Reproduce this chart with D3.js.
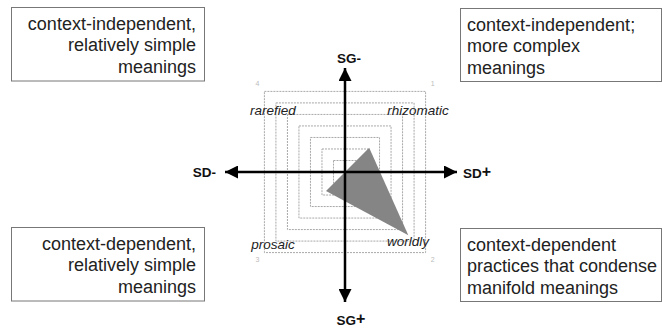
<!DOCTYPE html>
<html><head><meta charset="utf-8">
<script src="https://cdn.jsdelivr.net/npm/d3@7"></script>
<style>body{margin:0;background:#fff}svg{display:block}text{font-family:"Liberation Sans",Arial,sans-serif}</style>
</head><body>
<script>
const axes = ["rhizomatic","worldly","prosaic","rarefied"];
const axisNumbers = ["1","2","3","4"];
const values = [2.1, 5.5, 1.65, 0];
const gridLevels = [1,2,3,4,5,6,7];
const crossLabels = [["SG","-"],["SD","+"],["SG","+"],["SD","-"]];
const boxTexts = [
  ["context-independent,","relatively simple","meanings"],
  ["context-independent;","more complex","meanings"],
  ["context-dependent","practices that condense","manifold meanings"],
  ["context-dependent,","relatively simple","meanings"]
];

const W=662,H=329, cx=345, cy=172;
const svg=d3.select("body").append("svg").attr("width",W).attr("height",H);
const r=d3.scaleLinear().domain([0,7]).range([0,80.6]);
const dirs=[[1,-1],[1,1],[-1,1],[-1,-1]];

svg.append("g").selectAll("rect").data(gridLevels).join("rect")
  .attr("x",d=>cx-r(d)).attr("y",d=>cy-r(d))
  .attr("width",d=>2*r(d)).attr("height",d=>2*r(d))
  .attr("fill","none").attr("stroke","#a8a8a8").attr("stroke-width",1).attr("stroke-dasharray","2,1");

svg.append("g").selectAll("text").data(axisNumbers).join("text")
  .attr("x",(d,i)=>cx+dirs[i][0]*(r(7)+7)).attr("y",(d,i)=>cy+dirs[i][1]*(r(7)+7)+2)
  .attr("text-anchor","middle").attr("font-size",7).attr("fill","#bbb").text(d=>d);

const pts=values.map((v,i)=>[cx+dirs[i][0]*r(v), cy+dirs[i][1]*r(v)]);
svg.append("path").attr("d",d3.line()(pts)+"Z").attr("fill","#858585").attr("stroke","none");

const labelOff=[[73,-57],[63,74],[-72,77],[-72,-57]];
svg.append("g").selectAll("text").data(axes).join("text")
  .attr("x",(d,i)=>cx+labelOff[i][0]).attr("y",(d,i)=>cy+labelOff[i][1])
  .attr("text-anchor","middle").attr("font-size",13.5).attr("font-style","italic").attr("fill","#222").text(d=>d);

const defs=svg.append("defs");
defs.append("marker").attr("id","ah").attr("viewBox","0 0 10 10").attr("refX",10).attr("refY",5)
  .attr("markerWidth",17).attr("markerHeight",13).attr("markerUnits","userSpaceOnUse").attr("orient","auto")
  .append("path").attr("d","M0,0L10,5L0,10Z").attr("fill","#000");
defs.append("marker").attr("id","ahs").attr("viewBox","0 0 10 10").attr("refX",0).attr("refY",5)
  .attr("markerWidth",17).attr("markerHeight",13).attr("markerUnits","userSpaceOnUse").attr("orient","auto")
  .append("path").attr("d","M10,0L0,5L10,10Z").attr("fill","#000");
const armH=[225,457], armV=[68,302];
svg.append("line").attr("x1",armH[0]).attr("x2",armH[1]).attr("y1",cy).attr("y2",cy)
  .attr("stroke","#000").attr("stroke-width",2.5).attr("marker-end","url(#ah)").attr("marker-start","url(#ahs)");
svg.append("line").attr("x1",cx).attr("x2",cx).attr("y1",armV[0]).attr("y2",armV[1])
  .attr("stroke","#000").attr("stroke-width",2.5).attr("marker-end","url(#ah)").attr("marker-start","url(#ahs)");

const clPos=[[cx+4,cy-109,"middle"],[463,cy+6,"start"],[cx+6,cy+153,"middle"],[216,cy+5,"end"]];
const cl=svg.append("g").selectAll("text").data(crossLabels).join("text")
  .attr("x",(d,i)=>clPos[i][0]).attr("y",(d,i)=>clPos[i][1]).attr("text-anchor",(d,i)=>clPos[i][2])
  .attr("font-size",13.5).attr("font-weight","bold").attr("fill","#111");
cl.append("tspan").text(d=>d[0]);
cl.append("tspan").attr("font-size",d=>d[1]==="+"?16:13.5).attr("dy",d=>d[1]==="+"?-1:0).text(d=>d[1]);

const boxes=[
  {x:11,y:7.5,w:193,h:73.5,anchor:"end",tx:196},
  {x:460,y:8.5,w:201,h:73,anchor:"start",tx:467},
  {x:460,y:228.5,w:201,h:73,anchor:"start",tx:467},
  {x:11,y:227.5,w:193,h:73.5,anchor:"end",tx:196}
];
const bg=svg.append("g").selectAll("g").data(boxes).join("g");
bg.append("rect").attr("x",d=>d.x+.5).attr("y",d=>d.y).attr("width",d=>d.w).attr("height",d=>d.h)
  .attr("fill","#fff").attr("stroke","#777").attr("stroke-width",1);
bg.each(function(d,i){
  d3.select(this).selectAll("text").data(boxTexts[i]).join("text")
    .attr("x",d.tx).attr("y",(t,j)=>d.y+22+j*21.5).attr("text-anchor",d.anchor)
    .attr("font-size",18).attr("fill","#222").text(t=>t);
});
</script>
</body></html>
